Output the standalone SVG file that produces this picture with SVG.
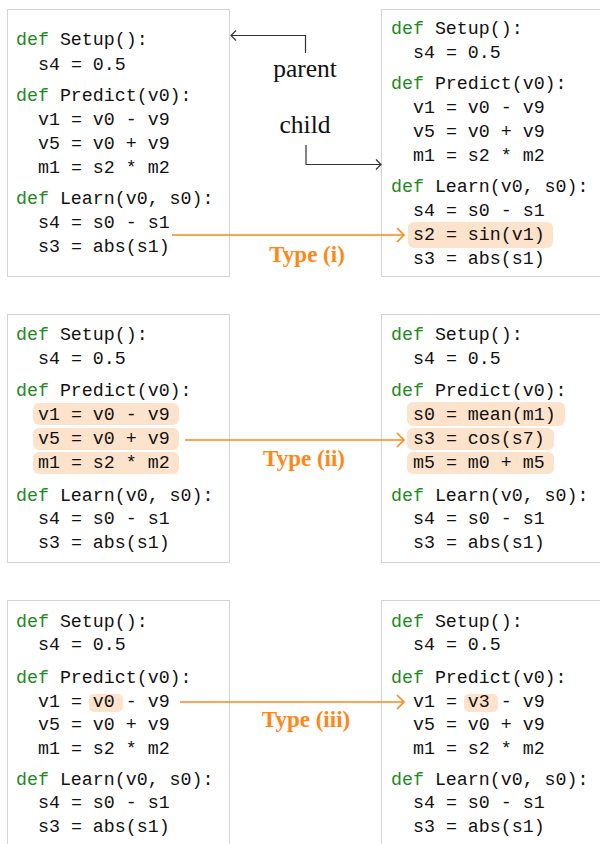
<svg xmlns="http://www.w3.org/2000/svg" width="600" height="844" viewBox="0 0 600 844">
<style>
.panel{fill:#fff;stroke:#d4d4d4;stroke-width:1}
.code{font-family:"Liberation Mono","DejaVu Sans Mono",monospace;font-size:18.3px;fill:#111}
.kw{fill:#1e8a1e}
.hl{fill:#fde3cb}
.lbl{font-family:"Liberation Serif","Times New Roman",serif;font-size:25.5px;fill:#111;text-anchor:middle}
.type{font-family:"Liberation Serif","Times New Roman",serif;font-size:23px;font-weight:bold;fill:#ff8718;text-anchor:middle}
.blk{fill:none;stroke:#333;stroke-width:1.2}
.org{fill:none;stroke:#ff8718;stroke-width:1.6}
</style>
<rect width="600" height="844" fill="#fff"/>

<g id="parent1">
<rect class="panel" x="7.5" y="9.5" width="222" height="267"/>
<text class="code"><tspan x="16" y="45"><tspan class="kw">def</tspan> Setup():</tspan><tspan x="38" y="70">s4 = 0.5</tspan><tspan x="16" y="101"><tspan class="kw">def</tspan> Predict(v0):</tspan><tspan x="38" y="125">v1 = v0 - v9</tspan><tspan x="38" y="149">v5 = v0 + v9</tspan><tspan x="38" y="173">m1 = s2 * m2</tspan><tspan x="16" y="204"><tspan class="kw">def</tspan> Learn(v0, s0):</tspan><tspan x="38" y="228">s4 = s0 - s1</tspan><tspan x="38" y="252">s3 = abs(s1)</tspan></text>
</g>

<g id="child1">
<rect class="panel" x="381.5" y="9.5" width="230" height="267"/>
<rect class="hl" x="408" y="222" width="145" height="26" rx="6"/>
<text class="code"><tspan x="391" y="34"><tspan class="kw">def</tspan> Setup():</tspan><tspan x="413" y="58">s4 = 0.5</tspan><tspan x="391" y="89"><tspan class="kw">def</tspan> Predict(v0):</tspan><tspan x="413" y="113">v1 = v0 - v9</tspan><tspan x="413" y="137">v5 = v0 + v9</tspan><tspan x="413" y="161">m1 = s2 * m2</tspan><tspan x="391" y="192"><tspan class="kw">def</tspan> Learn(v0, s0):</tspan><tspan x="413" y="216">s4 = s0 - s1</tspan><tspan x="413" y="240">s2 = sin(v1)</tspan><tspan x="413" y="264">s3 = abs(s1)</tspan></text>
</g>

<g id="parent2">
<rect class="panel" x="7.5" y="314.5" width="222" height="248"/>
<rect class="hl" x="33" y="403" width="146" height="22" rx="6"/>
<rect class="hl" x="33" y="428" width="146" height="22" rx="6"/>
<rect class="hl" x="33" y="452" width="146" height="22" rx="6"/>
<text class="code"><tspan x="16" y="340"><tspan class="kw">def</tspan> Setup():</tspan><tspan x="38" y="364">s4 = 0.5</tspan><tspan x="16" y="396"><tspan class="kw">def</tspan> Predict(v0):</tspan><tspan x="38" y="420">v1 = v0 - v9</tspan><tspan x="38" y="444">v5 = v0 + v9</tspan><tspan x="38" y="468">m1 = s2 * m2</tspan><tspan x="16" y="501"><tspan class="kw">def</tspan> Learn(v0, s0):</tspan><tspan x="38" y="524">s4 = s0 - s1</tspan><tspan x="38" y="548">s3 = abs(s1)</tspan></text>
</g>

<g id="child2">
<rect class="panel" x="381.5" y="314.5" width="230" height="248"/>
<rect class="hl" x="407" y="402" width="158" height="24" rx="6"/>
<rect class="hl" x="407" y="428" width="147" height="22" rx="6"/>
<rect class="hl" x="407" y="452" width="147" height="22" rx="6"/>
<text class="code"><tspan x="391" y="340"><tspan class="kw">def</tspan> Setup():</tspan><tspan x="413" y="364">s4 = 0.5</tspan><tspan x="391" y="396"><tspan class="kw">def</tspan> Predict(v0):</tspan><tspan x="413" y="420">s0 = mean(m1)</tspan><tspan x="413" y="444">s3 = cos(s7)</tspan><tspan x="413" y="468">m5 = m0 + m5</tspan><tspan x="391" y="501"><tspan class="kw">def</tspan> Learn(v0, s0):</tspan><tspan x="413" y="524">s4 = s0 - s1</tspan><tspan x="413" y="548">s3 = abs(s1)</tspan></text>
</g>

<g id="parent3">
<rect class="panel" x="7.5" y="600.5" width="222" height="260"/>
<rect class="hl" x="89" y="694" width="34" height="18" rx="5"/>
<text class="code"><tspan x="16" y="627"><tspan class="kw">def</tspan> Setup():</tspan><tspan x="38" y="650">s4 = 0.5</tspan><tspan x="16" y="683"><tspan class="kw">def</tspan> Predict(v0):</tspan><tspan x="38" y="707">v1 = v0 - v9</tspan><tspan x="38" y="730">v5 = v0 + v9</tspan><tspan x="38" y="754">m1 = s2 * m2</tspan><tspan x="16" y="785"><tspan class="kw">def</tspan> Learn(v0, s0):</tspan><tspan x="38" y="808">s4 = s0 - s1</tspan><tspan x="38" y="832">s3 = abs(s1)</tspan></text>
</g>

<g id="child3">
<rect class="panel" x="381.5" y="600.5" width="230" height="260"/>
<rect class="hl" x="464" y="694" width="34" height="18" rx="5"/>
<text class="code"><tspan x="391" y="627"><tspan class="kw">def</tspan> Setup():</tspan><tspan x="413" y="650">s4 = 0.5</tspan><tspan x="391" y="683"><tspan class="kw">def</tspan> Predict(v0):</tspan><tspan x="413" y="707">v1 = v3 - v9</tspan><tspan x="413" y="730">v5 = v0 + v9</tspan><tspan x="413" y="754">m1 = s2 * m2</tspan><tspan x="391" y="785"><tspan class="kw">def</tspan> Learn(v0, s0):</tspan><tspan x="413" y="808">s4 = s0 - s1</tspan><tspan x="413" y="832">s3 = abs(s1)</tspan></text>
</g>

<g id="connectors">
<path class="blk" d="M305.5,53 V35.5 H231"/>
<path class="blk" d="M236,30.5 L231,35.5 L236,40.5"/>
<path class="blk" d="M306,145 V164.5 H381"/>
<path class="blk" d="M376,159.5 L381,164.5 L376,169.5"/>
<path class="org" d="M172,235 H404"/>
<path class="org" d="M397,228 L404,235 L397,242"/>
<path class="org" d="M185,440 H404"/>
<path class="org" d="M397,433 L404,440 L397,447"/>
<path class="org" d="M180,702 H404"/>
<path class="org" d="M397,695 L404,702 L397,709"/>
</g>

<g id="labels">
<text class="lbl" x="305" y="77">parent</text>
<text class="lbl" x="305" y="133">child</text>
<text class="type" x="307" y="262">Type (i)</text>
<text class="type" x="304" y="466">Type (ii)</text>
<text class="type" x="306" y="727">Type (iii)</text>
</g>
</svg>
